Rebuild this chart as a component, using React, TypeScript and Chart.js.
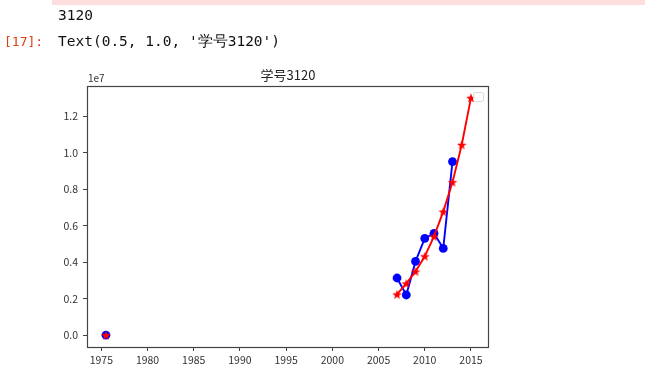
import React, { useEffect, useRef } from "react";
import { Chart, registerables } from "chart.js";

Chart.register(...registerables);

// ---- data ----
const actualYears = [1975.5, 2007, 2008, 2009, 2010, 2011, 2012, 2013];
const actualValues = [0, 3.13e6, 2.2e6, 4.04e6, 5.3e6, 5.58e6, 4.75e6, 9.51e6];
const predYears = [1975.5, 2007, 2008, 2009, 2010, 2011, 2012, 2013, 2014, 2015];
const predValues = [0, 2.23e6, 2.83e6, 3.49e6, 4.32e6, 5.41e6, 6.77e6, 8.38e6, 10.43e6, 13.0e6];
const xTickValues = [1975, 1980, 1985, 1990, 1995, 2000, 2005, 2010, 2015];
const yTickValues = [0, 2e6, 4e6, 6e6, 8e6, 10e6, 12e6];
const chartTitle = "学号3120";
const offsetLabel = "1e7";
const printedOutput = "3120";
const promptLabel = "[17]:";
const returnText = "Text(0.5, 1.0, '学号3120')";

const CJK = '"Noto Sans CJK SC", "Noto Sans", sans-serif';
const MONO = '"DejaVu Sans Mono", "Liberation Mono", monospace';

function makeStar(color: string, r: number): HTMLCanvasElement {
  const size = Math.ceil(r * 2 + 2);
  const c = document.createElement("canvas");
  c.width = size;
  c.height = size;
  const g = c.getContext("2d")!;
  const cx = size / 2;
  const cy = size / 2 + 0.5;
  const inner = r * 0.42;
  g.beginPath();
  for (let i = 0; i < 10; i++) {
    const rad = i % 2 === 0 ? r : inner;
    const a = -Math.PI / 2 + (i * Math.PI) / 5;
    const px = cx + rad * Math.cos(a);
    const py = cy + rad * Math.sin(a);
    if (i === 0) g.moveTo(px, py);
    else g.lineTo(px, py);
  }
  g.closePath();
  g.fillStyle = color;
  g.fill();
  return c;
}

const gapSegment = {
  borderColor: (ctx: any) => (ctx.p1.parsed.x - ctx.p0.parsed.x > 5 ? "rgba(0,0,0,0)" : undefined),
};

const decorPlugin = {
  id: "decor",
  beforeDraw(chart: any) {
    const ctx = chart.ctx;
    ctx.save();
    ctx.fillStyle = "#ffffff";
    ctx.fillRect(0, 0, chart.width, chart.height);
    // stderr box remnant
    ctx.fillStyle = "#fddddd";
    ctx.fillRect(52, 0, chart.width - 52, 5);
    // notebook text
    ctx.textBaseline = "alphabetic";
    ctx.textAlign = "left";
    ctx.font = `14.5px ${MONO}`;
    ctx.fillStyle = "#111111";
    ctx.fillText(printedOutput, 58, 20);
    ctx.font = `13px ${MONO}`;
    ctx.fillStyle = "#d84315";
    ctx.fillText(promptLabel, 4, 46);
    ctx.font = `14.5px ${MONO}`;
    ctx.fillStyle = "#111111";
    ctx.fillText(returnText, 58, 46);
    ctx.restore();
  },
  afterDatasetsDraw(chart: any) {
    const ctx = chart.ctx;
    const a = chart.chartArea;
    ctx.save();
    // frame
    ctx.strokeStyle = "#444444";
    ctx.lineWidth = 1.2;
    ctx.strokeRect(Math.round(a.left) + 0.5, Math.round(a.top) + 0.5, Math.round(a.right - a.left) - 1, Math.round(a.bottom - a.top));
    // title
    ctx.fillStyle = "#222222";
    ctx.font = `13px ${CJK}`;
    ctx.textAlign = "center";
    ctx.textBaseline = "alphabetic";
    ctx.fillText(chartTitle, (a.left + a.right) / 2, a.top - 6);
    // offset label
    ctx.font = `10px ${CJK}`;
    ctx.textAlign = "left";
    ctx.fillStyle = "#333333";
    ctx.fillText(offsetLabel, a.left + 1, a.top - 4);
    // empty legend box
    const lx = a.right - 16;
    const ly = a.top + 6;
    ctx.beginPath();
    ctx.roundRect(lx + 0.5, ly + 0.5, 10, 9, 2);
    ctx.fillStyle = "rgba(255,255,255,0.8)";
    ctx.fill();
    ctx.lineWidth = 1;
    ctx.strokeStyle = "#d8d8d8";
    ctx.stroke();
    ctx.restore();
  },
};

export default function App() {
  const ref = useRef<HTMLCanvasElement | null>(null);

  useEffect(() => {
    if (!ref.current) return;
    const star = makeStar("#ff0000", 5);
    const chart = new Chart(ref.current, {
      type: "line",
      data: {
        datasets: [
          {
            label: "predicted",
            data: predYears.map((x, i) => ({ x, y: predValues[i] })),
            borderColor: "#ff0000",
            backgroundColor: "#ff0000",
            borderWidth: 1.9,
            pointStyle: star as any,
            pointRadius: 5,
            segment: gapSegment as any,
            order: 0,
          },
          {
            label: "actual",
            data: actualYears.map((x, i) => ({ x, y: actualValues[i] })),
            borderColor: "#0000ff",
            backgroundColor: "#0000ff",
            pointBorderColor: "#0000ff",
            borderWidth: 1.9,
            pointStyle: "circle",
            pointRadius: 4.4,
            pointBorderWidth: 0,
            segment: gapSegment as any,
            order: 1,
          },
        ],
      },
      options: {
        responsive: false,
        animation: false,
        devicePixelRatio: 1,
        layout: { padding: { left: 0, top: 86, right: 156, bottom: 0 } },
        plugins: {
          legend: { display: false },
          title: { display: false },
          tooltip: { enabled: false },
        },
        scales: {
          x: {
            type: "linear",
            min: 1973.45,
            max: 2016.95,
            afterFit: (s: any) => {
              s.height = 42;
            },
            afterBuildTicks: (s: any) => {
              s.ticks = xTickValues.map((v) => ({ value: v }));
            },
            grid: {
              drawOnChartArea: false,
              drawTicks: true,
              tickLength: 4,
              tickColor: "#444444",
              color: "#444444",
            },
            border: { display: false },
            ticks: {
              color: "#333333",
              font: { family: CJK, size: 10.5 },
              padding: 3,
              maxRotation: 0,
              autoSkip: false,
              callback: (v: any) => String(v),
            },
          },
          y: {
            type: "linear",
            min: -0.065e7,
            max: 1.365e7,
            afterFit: (s: any) => {
              s.width = 87;
            },
            afterBuildTicks: (s: any) => {
              s.ticks = yTickValues.map((v) => ({ value: v }));
            },
            grid: {
              drawOnChartArea: false,
              drawTicks: true,
              tickLength: 4,
              tickColor: "#444444",
              color: "#444444",
            },
            border: { display: false },
            ticks: {
              color: "#333333",
              font: { family: CJK, size: 10.5 },
              padding: 5,
              autoSkip: false,
              callback: (v: any) => (Number(v) / 1e7).toFixed(1),
            },
          },
        },
      },
      plugins: [decorPlugin],
    });
    return () => chart.destroy();
  }, []);

  return (
    <div style={{ position: "fixed", left: 0, top: 0, width: 645, height: 389, background: "#fff" }}>
      <canvas ref={ref} width={645} height={389} style={{ display: "block", width: 645, height: 389 }} />
    </div>
  );
}
